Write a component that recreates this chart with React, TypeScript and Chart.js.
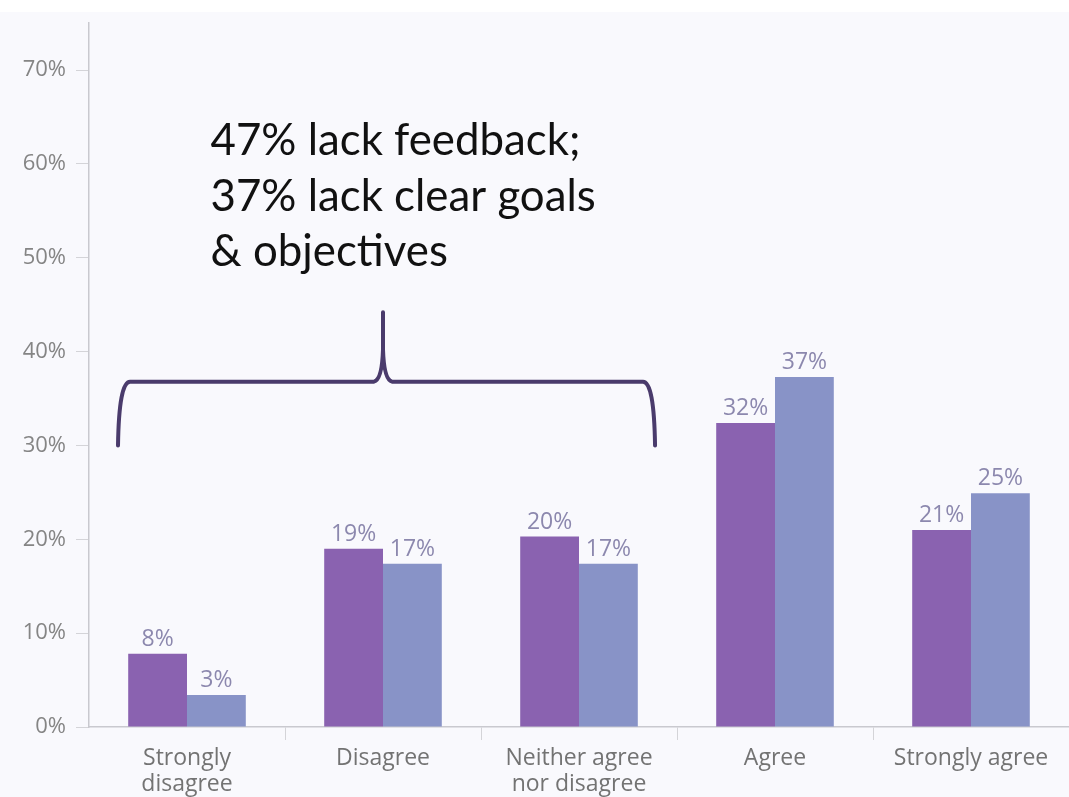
import React, { useEffect, useRef } from "react";
import { Chart, registerables } from "chart.js";

Chart.register(...registerables);

const categories: (string | string[])[] = [
  ["Strongly", "disagree"],
  "Disagree",
  ["Neither agree", "nor disagree"],
  "Agree",
  "Strongly agree",
];
const seriesA = [7.8, 19.0, 20.3, 32.4, 21.0];
const seriesB = [3.4, 17.4, 17.4, 37.3, 24.9];
const yTicks = [0, 10, 20, 30, 40, 50, 60, 70];
const noteLines = ["47% lack feedback;", "37% lack clear goals", "& objectives"];

const PURPLE = "#8a62b0";
const BLUE = "#8893c7";
const AXIS = "#c9c9cf";

const bgPlugin = {
  id: "bg",
  beforeDraw(chart: any) {
    const { ctx, width, height } = chart;
    ctx.save();
    ctx.fillStyle = "#ffffff";
    ctx.fillRect(0, 0, width, height);
    ctx.fillStyle = "#f9f9fd";
    ctx.fillRect(0, 12, width, height - 12);
    ctx.restore();
  },
};

const labelPlugin = {
  id: "barLabels",
  afterDatasetsDraw(chart: any) {
    const { ctx } = chart;
    ctx.save();
    ctx.font = '23px "Open Sans", sans-serif';
    ctx.fillStyle = "#8c88ae";
    ctx.textAlign = "center";
    ctx.textBaseline = "alphabetic";
    chart.data.datasets.forEach((ds: any, di: number) => {
      const meta = chart.getDatasetMeta(di);
      meta.data.forEach((bar: any, i: number) => {
        const v = ds.data[i];
        ctx.fillText(Math.round(v) + "%", bar.x, bar.y - 8);
      });
    });
    ctx.restore();
  },
};

const notePlugin = {
  id: "note",
  afterDraw(chart: any) {
    const { ctx } = chart;
    const xs = chart.scales.x;
    const ys = chart.scales.y;
    const cw = xs.getPixelForValue(1) - xs.getPixelForValue(0);
    const c0 = xs.getPixelForValue(0);
    const c1 = xs.getPixelForValue(1);
    const c2 = xs.getPixelForValue(2);
    // text
    ctx.save();
    ctx.font = '43.8px Lato, "Open Sans", sans-serif';
    ctx.fillStyle = "#111111";
    ctx.textAlign = "left";
    ctx.textBaseline = "alphabetic";
    const tx = c0 + 0.12 * cw;
    const baseVals = [61.0, 55.0, 49.1];
    noteLines.forEach((t, i) => ctx.fillText(t, tx, ys.getPixelForValue(baseVals[i])));
    // bracket
    const L = c0 - 0.352 * cw;
    const R = c2 + 0.388 * cw;
    const P = c1;
    const B = ys.getPixelForValue(30.0);
    const H = ys.getPixelForValue(36.8);
    const T = ys.getPixelForValue(44.2);
    ctx.strokeStyle = "#4a3b6c";
    ctx.lineWidth = 4;
    ctx.lineCap = "round";
    ctx.lineJoin = "round";
    ctx.beginPath();
    ctx.moveTo(L, B);
    ctx.quadraticCurveTo(L + 1, H, L + 12, H);
    ctx.lineTo(P - 9, H);
    ctx.quadraticCurveTo(P - 1, H - 2, P, H - 32);
    ctx.lineTo(P, T);
    ctx.moveTo(R, B);
    ctx.quadraticCurveTo(R - 1, H, R - 12, H);
    ctx.lineTo(P + 9, H);
    ctx.quadraticCurveTo(P + 1, H - 2, P, H - 32);
    ctx.stroke();
    ctx.restore();
  },
};

export default function App() {
  const ref = useRef<HTMLCanvasElement | null>(null);
  useEffect(() => {
    if (!ref.current) return;
    const chart = new Chart(ref.current, {
      type: "bar",
      data: {
        labels: categories,
        datasets: [
          { label: "A", data: seriesA, backgroundColor: PURPLE, categoryPercentage: 0.6, barPercentage: 1.0 },
          { label: "B", data: seriesB, backgroundColor: BLUE, categoryPercentage: 0.6, barPercentage: 1.0 },
        ],
      },
      options: {
        responsive: false,
        animation: false,
        layout: { padding: { top: 12, right: 0, left: 0, bottom: 0 } },
        plugins: { legend: { display: false }, tooltip: { enabled: false } },
        scales: {
          x: {
            grid: {
              offset: true,
              drawOnChartArea: false,
              tickLength: 13,
              color: (c: any) => (c.index === 0 || c.index === categories.length ? "rgba(0,0,0,0)" : "#d4d4d8"),
            },
            border: { color: AXIS, width: 1.5 },
            ticks: {
              color: "#737373",
              font: { family: '"Open Sans", sans-serif', size: 23, lineHeight: 1.12 },
              padding: 6,
              maxRotation: 0,
              autoSkip: false,
            },
            afterFit: (s: any) => {
              s.height = 70;
            },
          },
          y: {
            min: 0,
            max: 75,
            grid: { drawOnChartArea: false, tickLength: 13, color: "#d4d4d8" },
            border: { color: AXIS, width: 1.5 },
            ticks: {
              stepSize: 10,
              color: "#858585",
              font: { family: '"Open Sans", sans-serif', size: 22 },
              padding: 10,
              callback: (v: any) => v + "%",
            },
            afterBuildTicks: (s: any) => {
              s.ticks = yTicks.map((v) => ({ value: v }));
            },
            afterFit: (s: any) => {
              s.width = 89;
            },
          },
        },
      },
      plugins: [bgPlugin, labelPlugin, notePlugin],
    });
    return () => chart.destroy();
  }, []);
  return (
    <canvas
      ref={ref}
      width={1069}
      height={797}
      style={{ position: "fixed", top: 0, left: 0, width: 1069, height: 797, display: "block" }}
    />
  );
}
